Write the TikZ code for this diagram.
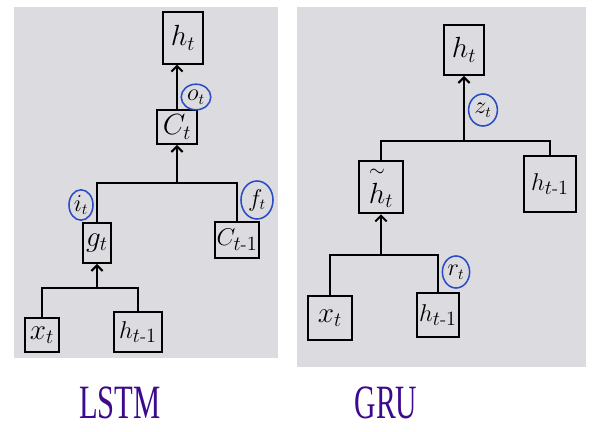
\documentclass[tikz,border=0pt]{standalone}
\usepackage{graphicx}
\usepackage{amsmath}
\usepackage{fontspec}
\newfontfamily\titlefont{Liberation Serif}
\usetikzlibrary{arrows.meta, positioning, shapes.geometric}

\definecolor{paper}{HTML}{DCDCE0}
\definecolor{gateblue}{HTML}{2A4CC4}
\definecolor{titlecol}{HTML}{3C0A8C}

\tikzset{
  box/.style={draw, line width=1.4pt, inner sep=0pt, font=\fontsize{22}{25}\selectfont},
  prevbox/.style={box, font=\fontsize{19}{22}\selectfont},
  gate/.style={draw=gateblue, ellipse, line width=1.1pt, inner sep=0pt, font=\fontsize{16}{18}\selectfont},
  wire/.style={line width=1.4pt},
  flow/.style={wire, -{Straight Barb[length=4pt,width=8pt]}},
  title/.style={text=titlecol, font=\titlefont\fontsize{34}{38}\selectfont}
}

\begin{document}
\begin{tikzpicture}[x=0.025cm, y=-0.025cm]
    % Canvas and the two sheets of paper
    \fill[white] (0,0) rectangle (600,432);
    \useasboundingbox (0,0) rectangle (600,432);
    \fill[paper] (14,7) rectangle (278,358);
    \fill[paper] (297,7) rectangle (586,367);

    % LSTM boxes
    \node[box, minimum width=1cm, minimum height=1.28cm] (lht) at (183,38) {$h_t$};
    \node[box, minimum width=0.98cm, minimum height=0.85cm] (lct) at (177,127) {$C_t$};
    \node[box, minimum width=0.72cm, minimum height=1cm] (lgt) at (97,243) {$g_t$};
    \node[prevbox, minimum width=1.1cm, minimum height=0.9cm] (lcprev) at (237,240) {$C_{t\text{-}1}$};
    \node[box, minimum width=0.85cm, minimum height=0.85cm] (lxt) at (42,335) {$x_t$};
    \node[prevbox, minimum width=1.22cm, minimum height=1cm] (lhprev) at (138,332) {$h_{t\text{-}1}$};

    % LSTM gates
    \node[gate, minimum width=0.74cm, minimum height=0.64cm] (lot) at (196,97) {$o_t$};
    \node[gate, minimum width=0.6cm, minimum height=0.76cm] (lit) at (81,205) {$i_t$};
    \node[gate, minimum width=0.8cm, minimum height=0.95cm] (lft) at (257,200) {$f_t$};

    % LSTM connectors
    \coordinate (ljtop) at (177,183);
    \coordinate (ljbot) at (97,288);
    \draw[wire] (lgt.north) |- (ljtop) -| (lcprev.north);
    \draw[flow] (ljtop) -- (lct.south);
    \draw[flow] (lct.north) -- (lct.north |- lht.south);
    \draw[wire] (lxt.north) |- (ljbot) -| (lhprev.north);
    \draw[flow] (ljbot) -- (lgt.south);

    % GRU boxes
    \node[box, minimum width=1cm, minimum height=1.25cm] (ght) at (464,50) {$h_t$};
    \node[box, minimum width=1.08cm, minimum height=1.32cm] (ghtil) at (381,187) {$\overset{\sim}{\rule{0pt}{15pt}h}_t$};
    \node[prevbox, minimum width=1.28cm, minimum height=1.38cm] (ghprevr) at (550,184) {$h_{t\text{-}1}$};
    \node[box, minimum width=1.12cm, minimum height=1.08cm] (gxt) at (330,318) {$x_t$};
    \node[prevbox, minimum width=1.05cm, minimum height=1.1cm] (ghprev) at (438,315) {$h_{t\text{-}1}$};

    % GRU gates
    \node[gate, minimum width=0.72cm, minimum height=0.8cm] (gzt) at (483,110) {$z_t$};
    \node[gate, minimum width=0.68cm, minimum height=0.8cm] (grt) at (456,272) {$r_t$};

    % GRU connectors
    \coordinate (gjtop) at (464,141);
    \coordinate (gjbot) at (381,255);
    \draw[wire] (ghtil.north) |- (gjtop) -| (ghprevr.north);
    \draw[flow] (gjtop) -- (ght.south);
    \draw[wire] (gxt.north) |- (gjbot) -| (ghprev.north);
    \draw[flow] (gjbot) -- (ghtil.south);

    % Titles
    \node[title] (lstm) at (120,403) {\scalebox{0.64}[1]{LSTM}};
    \node[title] (gru) at (386,403) {\scalebox{0.62}[1]{GRU}};
\end{tikzpicture}
\end{document}
